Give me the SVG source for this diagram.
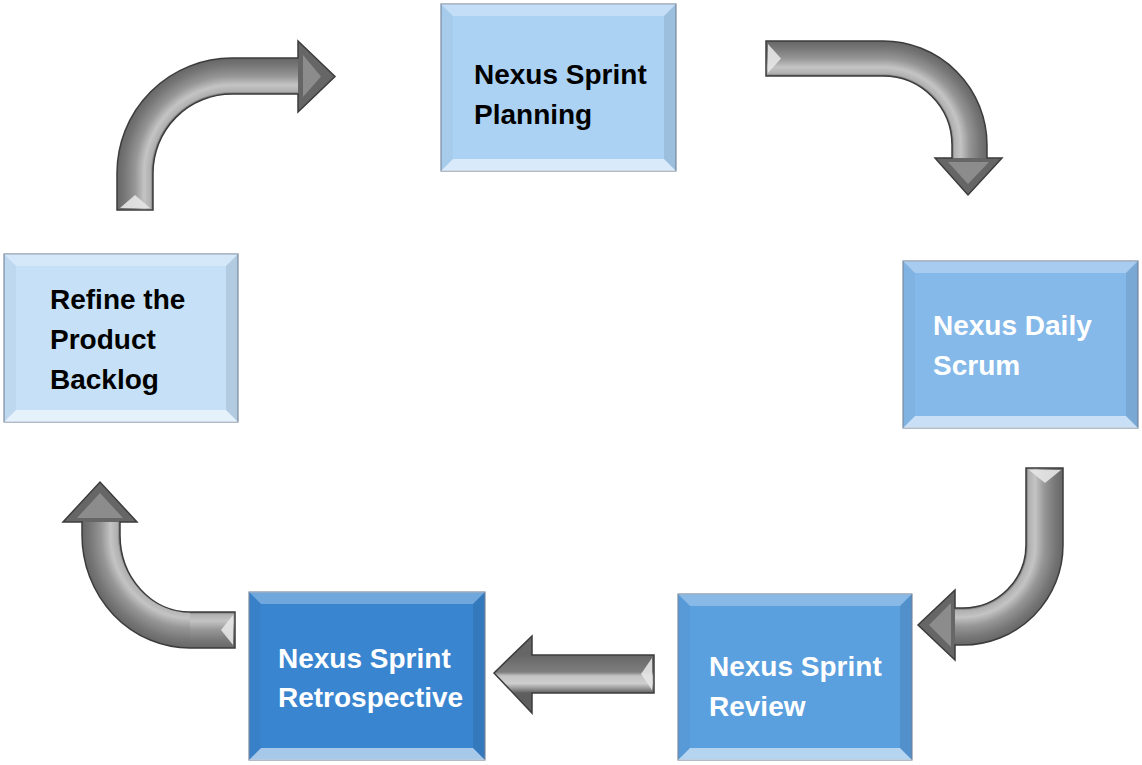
<svg xmlns="http://www.w3.org/2000/svg" width="1142" height="765" viewBox="0 0 1142 765">
<style>
.box{stroke:#7d8ea3;stroke-width:1.2}
.bt{fill:#fff;opacity:.28}
.bb{fill:#fff;opacity:.55}
.bl{fill:#000;opacity:.03}
.br{fill:#000;opacity:.09}
.t{font-family:"Liberation Sans",Arial,sans-serif;font-weight:bold;font-size:28px}
.dk{fill:#000}
.wt{fill:#fff}
.ol{fill:none;stroke:#3c3c3c;stroke-width:1.5;stroke-linejoin:miter}
.head{fill:#666}
.hb{fill:#8c8c8c}
.tail{fill:#e6e6e6;opacity:.9}
</style>
<defs>
<radialGradient id="g1" gradientUnits="userSpaceOnUse" cx="232" cy="173" r="115">
<stop offset="0.687" stop-color="#6a6a6a"/><stop offset="0.709" stop-color="#b0b0b0"/><stop offset="0.765" stop-color="#c4c4c4"/><stop offset="0.843" stop-color="#969696"/><stop offset="0.937" stop-color="#767676"/><stop offset="1" stop-color="#666"/>
</radialGradient>
<radialGradient id="g2" gradientUnits="userSpaceOnUse" cx="883" cy="145" r="104">
<stop offset="0.663" stop-color="#6a6a6a"/><stop offset="0.687" stop-color="#b0b0b0"/><stop offset="0.747" stop-color="#c4c4c4"/><stop offset="0.832" stop-color="#969696"/><stop offset="0.933" stop-color="#767676"/><stop offset="1" stop-color="#666"/>
</radialGradient>
<radialGradient id="g3" gradientUnits="userSpaceOnUse" cx="963" cy="545" r="100">
<stop offset="0.63" stop-color="#6a6a6a"/><stop offset="0.656" stop-color="#b0b0b0"/><stop offset="0.722" stop-color="#c4c4c4"/><stop offset="0.815" stop-color="#969696"/><stop offset="0.926" stop-color="#767676"/><stop offset="1" stop-color="#666"/>
</radialGradient>
<radialGradient id="g4" gradientUnits="userSpaceOnUse" cx="190" cy="535" r="108" gradientTransform="translate(190,535) scale(1,1.046) translate(-190,-535)">
<stop offset="0.648" stop-color="#6a6a6a"/><stop offset="0.673" stop-color="#b0b0b0"/><stop offset="0.736" stop-color="#c4c4c4"/><stop offset="0.824" stop-color="#969696"/><stop offset="0.93" stop-color="#767676"/><stop offset="1" stop-color="#666"/>
</radialGradient>
<linearGradient id="p" gradientUnits="objectBoundingBox">
<stop offset="0" stop-color="#6a6a6a"/><stop offset="0.07" stop-color="#b0b0b0"/><stop offset="0.25" stop-color="#c4c4c4"/><stop offset="0.5" stop-color="#969696"/><stop offset="0.8" stop-color="#767676"/><stop offset="1" stop-color="#666"/>
</linearGradient>
<linearGradient id="l1v" href="#p" gradientUnits="userSpaceOnUse" x1="153" y1="0" x2="117" y2="0"/>
<linearGradient id="l1h" href="#p" gradientUnits="userSpaceOnUse" x1="0" y1="94" x2="0" y2="58"/>
<linearGradient id="l2h" href="#p" gradientUnits="userSpaceOnUse" x1="0" y1="76" x2="0" y2="41"/>
<linearGradient id="l2v" href="#p" gradientUnits="userSpaceOnUse" x1="952" y1="0" x2="987" y2="0"/>
<linearGradient id="l3v" href="#p" gradientUnits="userSpaceOnUse" x1="1026" y1="0" x2="1063" y2="0"/>
<linearGradient id="l3h" href="#p" gradientUnits="userSpaceOnUse" x1="0" y1="608" x2="0" y2="645"/>
<linearGradient id="l4h" href="#p" gradientUnits="userSpaceOnUse" x1="0" y1="612" x2="0" y2="648"/>
<linearGradient id="l4v" href="#p" gradientUnits="userSpaceOnUse" x1="120" y1="0" x2="82" y2="0"/>
<linearGradient id="g5" gradientUnits="userSpaceOnUse" x1="0" y1="655" x2="0" y2="693">
<stop offset="0" stop-color="#666"/><stop offset="0.45" stop-color="#7e7e7e"/><stop offset="0.55" stop-color="#c4c4c4"/><stop offset="0.75" stop-color="#cecece"/><stop offset="0.9" stop-color="#8e8e8e"/><stop offset="1" stop-color="#5e5e5e"/>
</linearGradient>
</defs>
<rect width="1142" height="765" fill="#fff"/>

<g id="connectors">
<g id="arrow-refine-planning">
<path fill="url(#l1v)" d="M117,172 L153,172 L153,210 L117,210 Z"/>
<path fill="url(#g1)" d="M117,173 A115,115 0 0 1 232,58 L232,94 A79,79 0 0 0 153,173 Z"/>
<path fill="url(#l1h)" d="M231,58 L299,58 L299,94 L231,94 Z"/>
<path class="head" d="M298,41 L335,76.5 L298,112 Z"/>
<path class="hb" d="M303,55 L321,76.5 L303,97 Z"/>
<path class="ol" d="M117,210 L117,173 A115,115 0 0 1 232,58 L298,58 L298,41 L335,76.5 L298,112 L298,94 L232,94 A79,79 0 0 0 153,173 L153,210 Z"/>
<polygon class="tail" points="120,208 150,208 135,195"/>
</g>
<g id="arrow-planning-daily">
<path fill="url(#l2h)" d="M766,41 L884,41 L884,76 L766,76 Z"/>
<path fill="url(#g2)" d="M883,41 A104,104 0 0 1 987,145 L952,145 A69,69 0 0 0 883,76 Z"/>
<path fill="url(#l2v)" d="M952,144 L987,144 L987,159 L952,159 Z"/>
<path class="head" d="M935,158 L1002,158 L968,195 Z"/>
<path class="hb" d="M948,162 L989,162 L968,184 Z"/>
<path class="ol" d="M766,41 L883,41 A104,104 0 0 1 987,145 L987,158 L1002,158 L968,195 L935,158 L952,158 L952,145 A69,69 0 0 0 883,76 L766,76 Z"/>
<polygon class="tail" points="768,44 768,73 781,58.5"/>
</g>
<g id="arrow-daily-review">
<path fill="url(#l3v)" d="M1026,468 L1063,468 L1063,546 L1026,546 Z"/>
<path fill="url(#g3)" d="M1063,545 A100,100 0 0 1 963,645 L963,608 A63,63 0 0 0 1026,545 Z"/>
<path fill="url(#l3h)" d="M954,608 L964,608 L964,645 L954,645 Z"/>
<path class="head" d="M955,590 L955,660 L918,625 Z"/>
<path class="hb" d="M951,603 L951,647 L929,625 Z"/>
<path class="ol" d="M1063,468 L1063,545 A100,100 0 0 1 963,645 L955,645 L955,660 L918,625 L955,590 L955,608 L963,608 A63,63 0 0 0 1026,545 L1026,468 Z"/>
<polygon class="tail" points="1029,470 1061,470 1045,483"/>
</g>
<g id="arrow-retro-refine">
<path fill="url(#l4h)" d="M189,612 L235,612 L235,648 L189,648 Z"/>
<path fill="url(#g4)" d="M190,648 A108,113 0 0 1 82,535 L120,535 A70,77 0 0 0 190,612 Z"/>
<path fill="url(#l4v)" d="M82,521 L120,521 L120,536 L82,536 Z"/>
<path class="head" d="M63,522 L137,522 L100,482 Z"/>
<path class="hb" d="M77,518 L123,518 L100,493 Z"/>
<path class="ol" d="M235,648 L190,648 A108,113 0 0 1 82,535 L82,522 L63,522 L100,482 L137,522 L120,522 L120,535 A70,77 0 0 0 190,612 L235,612 Z"/>
<polygon class="tail" points="233,615 233,645 221,630"/>
</g>
<g id="arrow-review-retro">
<path fill="url(#g5)" d="M654,655 L532,655 L532,636 L494,673 L532,713 L532,693 L654,693 Z"/>
<path class="ol" d="M654,655 L532,655 L532,636 L494,673 L532,713 L532,693 L654,693 Z"/>
<polygon class="tail" points="652,658 652,690 641,674" opacity=".5"/>
</g>
</g>

<g id="node-planning">
<rect class="box" x="441" y="4" width="235" height="167" fill="#acd2f3"/>
<polygon class="bt" points="441,4 676,4 664,16 453,16"/>
<polygon class="bb" points="441,171 676,171 664,159 453,159"/>
<polygon class="bl" points="441,4 453,16 453,159 441,171"/>
<polygon class="br" points="676,4 664,16 664,159 676,171"/>
<text class="t dk" x="474" y="84">Nexus Sprint</text>
<text class="t dk" x="474" y="124">Planning</text>
</g>

<g id="node-refine">
<rect class="box" x="4" y="254" width="234" height="168" fill="#c5e0f7"/>
<polygon class="bt" points="4,254 238,254 226,266 16,266"/>
<polygon class="bb" points="4,422 238,422 226,410 16,410"/>
<polygon class="bl" points="4,254 16,266 16,410 4,422"/>
<polygon class="br" points="238,254 226,266 226,410 238,422"/>
<text class="t dk" x="50" y="309">Refine the</text>
<text class="t dk" x="50" y="349">Product</text>
<text class="t dk" x="50" y="389">Backlog</text>
</g>

<g id="node-daily">
<rect class="box" x="903" y="261" width="235" height="167" fill="#85b9e9"/>
<polygon class="bt" points="903,261 1138,261 1126,273 915,273"/>
<polygon class="bb" points="903,428 1138,428 1126,416 915,416"/>
<polygon class="bl" points="903,261 915,273 915,416 903,428"/>
<polygon class="br" points="1138,261 1126,273 1126,416 1138,428"/>
<text class="t wt" x="933" y="335">Nexus Daily</text>
<text class="t wt" x="933" y="375">Scrum</text>
</g>

<g id="node-review">
<rect class="box" x="678" y="594" width="234" height="166" fill="#5a9fde"/>
<polygon class="bt" points="678,594 912,594 900,606 690,606"/>
<polygon class="bb" points="678,760 912,760 900,748 690,748"/>
<polygon class="bl" points="678,594 690,606 690,748 678,760"/>
<polygon class="br" points="912,594 900,606 900,748 912,760"/>
<text class="t wt" x="709" y="676">Nexus Sprint</text>
<text class="t wt" x="709" y="716">Review</text>
</g>

<g id="node-retro">
<rect class="box" x="249" y="592" width="236" height="168" fill="#3a85cf"/>
<polygon class="bt" points="249,592 485,592 473,604 261,604"/>
<polygon class="bb" points="249,760 485,760 473,748 261,748"/>
<polygon class="bl" points="249,592 261,604 261,748 249,760"/>
<polygon class="br" points="485,592 473,604 473,748 485,760"/>
<text class="t wt" x="278" y="668">Nexus Sprint</text>
<text class="t wt" x="278" y="707">Retrospective</text>
</g>
</svg>
